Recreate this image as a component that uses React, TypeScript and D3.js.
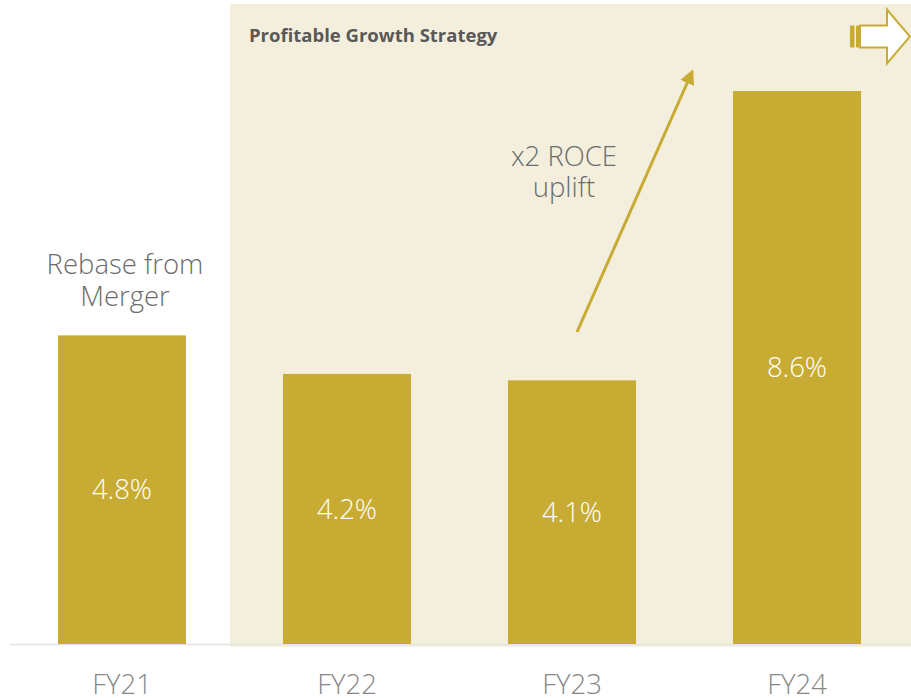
import * as d3 from "d3";

const categories = ["FY21", "FY22", "FY23", "FY24"];
const values = [4.8, 4.2, 4.1, 8.6];
const valueLabels = ["4.8%", "4.2%", "4.1%", "8.6%"];
const noteRebase = ["Rebase from", "Merger"];
const noteUplift = ["x2 ROCE", "uplift"];
const bandTitle = "Profitable Growth Strategy";

const W = 911;
const H = 698;
const GOLD = "#C8AB33";
const CREAM = "#F4EFDC";
const FONT = "'Open Sans', 'Noto Sans', sans-serif";

export default function App() {
  const x = d3
    .scaleBand<string>()
    .domain(categories)
    .range([9.5, 909.5])
    .paddingInner(0.431)
    .paddingOuter(0.2155);
  const y = d3.scaleLinear().domain([0, 8.6]).range([644, 91]);
  const base = y(0);

  // outline of the block arrow in the top-right corner
  const blockArrow = d3.path();
  blockArrow.moveTo(860, 25.5);
  blockArrow.lineTo(887, 25.5);
  blockArrow.lineTo(887, 9.5);
  blockArrow.lineTo(910, 36.5);
  blockArrow.lineTo(887, 63.5);
  blockArrow.lineTo(887, 47.5);
  blockArrow.lineTo(860, 47.5);
  blockArrow.closePath();

  const rebaseX = x("FY21")! + x.bandwidth() / 2 + 3;
  const upliftX = x("FY23")! - 8 + x.bandwidth() / 2;

  return (
    <svg
      width={W}
      height={H}
      style={{ position: "absolute", left: 0, top: 0, fontFamily: FONT }}
    >
      <defs>
        <marker
          id="tip"
          viewBox="0 0 10 10"
          refX="8"
          refY="5"
          markerWidth="5"
          markerHeight="5"
          orient="auto"
        >
          <path d="M0,0 L10,5 L0,10 z" fill={GOLD} />
        </marker>
      </defs>
      <rect x={0} y={0} width={W} height={H} fill="#fff" />
      <rect x={230} y={4} width={W - 230} height={643} fill={CREAM} />
      <line x1={10} x2={W} y1={base + 0.5} y2={base + 0.5} stroke="#E3E3E3" strokeWidth={1.5} />

      <text x={249} y={42} fontSize={18.5} fontWeight={700} fill="#595959">
        {bandTitle}
      </text>

      <rect x={850} y={25.5} width={4.5} height={22} fill={GOLD} />
      <rect x={856} y={25.5} width={4.5} height={22} fill={GOLD} />
      <path d={blockArrow.toString()} fill="#fff" stroke={GOLD} strokeWidth={2} />

      {categories.map((c, i) => (
        <g key={c}>
          <rect
            x={x(c)}
            y={y(values[i])}
            width={x.bandwidth()}
            height={base - y(values[i])}
            fill={GOLD}
          />
          <text
            x={x(c)! + x.bandwidth() / 2}
            y={(y(values[i]) + base) / 2}
            dy="0.35em"
            textAnchor="middle"
            fontSize={27.5}
            fontWeight={300}
            fill="#fff"
          >
            {valueLabels[i]}
          </text>
          <text
            x={x(c)! + x.bandwidth() / 2}
            y={694}
            textAnchor="middle"
            fontSize={27.5}
            fontWeight={300}
            fill="#878787"
          >
            {c}
          </text>
        </g>
      ))}

      {noteRebase.map((t, i) => (
        <text
          key={t}
          x={rebaseX}
          y={274 + i * 32}
          textAnchor="middle"
          fontSize={27.5}
          fontWeight={300}
          fill="#6B6D6D"
        >
          {t}
        </text>
      ))}

      {noteUplift.map((t, i) => (
        <text
          key={t}
          x={upliftX}
          y={166 + i * 31}
          textAnchor="middle"
          fontSize={27.5}
          fontWeight={300}
          fill="#6B6D6D"
        >
          {t}
        </text>
      ))}

      <line
        x1={577}
        y1={332}
        x2={692}
        y2={72}
        stroke={GOLD}
        strokeWidth={3}
        markerEnd="url(#tip)"
      />
    </svg>
  );
}
